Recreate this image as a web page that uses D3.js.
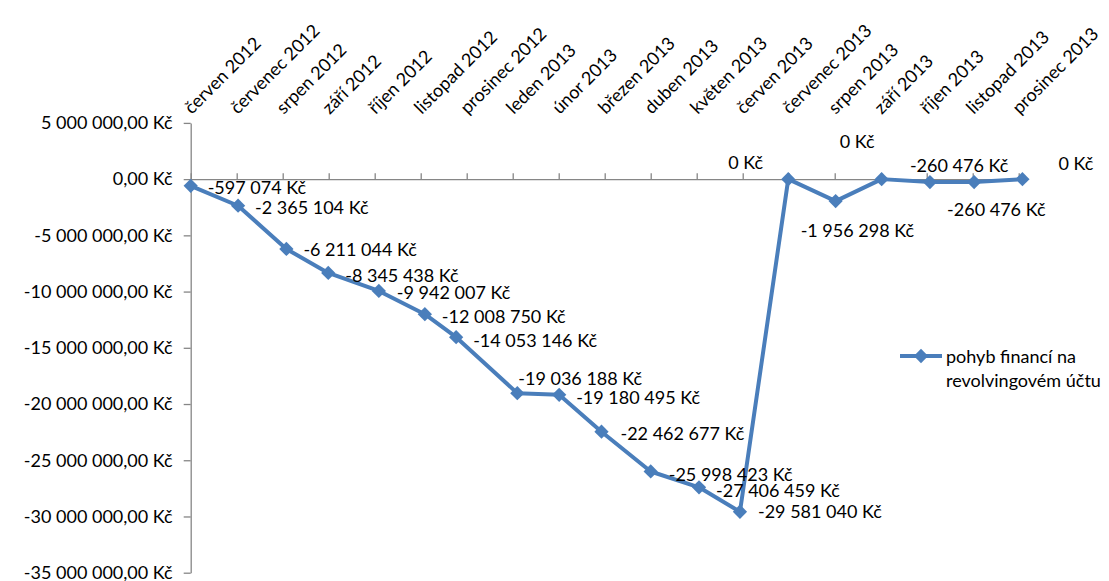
<!DOCTYPE html>
<html>
<head>
<meta charset="utf-8">
<script src="https://cdn.jsdelivr.net/npm/d3@7"></script>
<style>
  body { margin: 0; background: #fff; }
  text { font-family: Lato, "Open Sans", sans-serif; font-size: 18px; fill: #000; }
</style>
</head>
<body>
<svg id="chart" width="1109" height="581"></svg>
<script>
// DATA
const months = ["červen 2012", "červenec 2012", "srpen 2012", "září 2012", "říjen 2012",
    "listopad 2012", "prosinec 2012", "leden 2013", "únor 2013", "březen 2013", "duben 2013",
    "květen 2013", "červen 2013", "červenec 2013", "srpen 2013", "září 2013", "říjen 2013",
    "listopad 2013", "prosinec 2013"];
// where each point sits along the month axis
const monthPos = [0, 1.03, 2.08, 2.99, 4.09, 5.09, 5.77, 7.10, 8.01, 8.93, 10.0,
    11.05, 11.94, 12.99, 14.02, 15.02, 16.07, 17.03, 18.08];
const balance = [-597074, -2365104, -6211044, -8345438, -9942007, -12008750, -14053146,
    -19036188, -19180495, -22462677, -25998423, -27406459, -29581040, 0, -1956298,
    0, -260476, -260476, 0];
const yTicks = [5000000, 0, -5000000, -10000000, -15000000, -20000000, -25000000, -30000000, -35000000];
const seriesName = ["pohyb financí na", "revolvingovém účtu"];

// label placement (dx from point to label start, dy from point to label middle)
const labelOffset = [[17, 2], [17, 2], [17, 1], [17, 3], [18, 2], [17, 2], [17, 3], [1, -15],
    [17, 3], [19, 2], [18, 3], [17, 3], [18, 0], [-60, -17], [-35, 29], [-42, -38],
    [-20, -17], [-27, 27], [36, -16]];

// DIMENSIONS
const plot = {left: 190.7, right: 1022.4, top: 122.9, bottom: 572.7};
const blue = "#4a7ebb", grey = "#868686";

const cz = d3.formatLocale({decimal: ",", thousands: "\u00a0", grouping: [3], currency: ["", " Kč"], minus: "-"});
const fmtAxis = cz.format("$,.2f");
const fmtLabel = cz.format("$,.0f");

const svg = d3.select("#chart");

const x = d3.scaleLinear().domain([0, 18.08]).range([plot.left, plot.right]);
const y = d3.scaleLinear().domain([-35000000, 5000000]).range([plot.bottom, plot.top]);

//Y AXIS
const yAxis = d3.axisLeft(y)
    .tickValues(yTicks)
    .tickFormat(fmtAxis)
    .tickSize(7)
    .tickSizeOuter(0)
    .tickPadding(11);
const gy = svg.append("g")
    .attr("transform", "translate(" + plot.left + ",0)")
    .call(yAxis);
gy.select(".domain").attr("stroke", grey).attr("stroke-width", 1.3);
gy.selectAll(".tick line").attr("stroke", grey).attr("stroke-width", 1.3);
gy.selectAll("text").attr("font-size", 18).attr("font-family", null).attr("dy", "0.32em");

//X AXIS (sits on zero, labels above the plot)
const xAxis = d3.axisTop(x)
    .tickValues(d3.range(months.length))
    .tickFormat("")
    .tickSize(6)
    .tickSizeOuter(0);
const gx = svg.append("g")
    .attr("transform", "translate(0," + y(0) + ")")
    .call(xAxis);
gx.select(".domain").attr("stroke", grey).attr("stroke-width", 1.3);
gx.selectAll(".tick line").attr("stroke", grey).attr("stroke-width", 1.3);

svg.append("g").selectAll("g")
    .data(months)
    .enter().append("g")
    .attr("transform", (d, i) => "translate(" + (x(i) + 1) + ",115) rotate(-45)")
    .append("text")
    .attr("x", 0)
    .attr("y", 0)
    .text(d => d);

//LINE
const pts = balance.map((v, i) => ({pos: monthPos[i], value: v}));
const line = d3.line()
    .x(d => x(d.pos))
    .y(d => y(d.value));
svg.append("path")
    .attr("d", line(pts))
    .attr("fill", "none")
    .attr("stroke", blue)
    .attr("stroke-width", 4)
    .attr("stroke-linejoin", "round");

const diamond = d3.symbol().type(d3.symbolDiamond2).size(130);
svg.append("g").selectAll("path")
    .data(pts)
    .enter().append("path")
    .attr("d", diamond)
    .attr("transform", d => "translate(" + x(d.pos) + "," + y(d.value) + ")")
    .attr("fill", blue);

//DATA LABELS
svg.append("g").selectAll("text")
    .data(pts)
    .enter().append("text")
    .attr("x", (d, i) => x(d.pos) + labelOffset[i][0])
    .attr("y", (d, i) => y(d.value) + labelOffset[i][1] + 6.5)
    .text(d => fmtLabel(d.value));

//LEGEND
const lg = svg.append("g").attr("transform", "translate(900,356)");
lg.append("line")
    .attr("x1", 0).attr("x2", 42)
    .attr("stroke", blue).attr("stroke-width", 4);
lg.append("path")
    .attr("d", diamond)
    .attr("transform", "translate(21,0)")
    .attr("fill", blue);
lg.selectAll(".leg")
    .data(seriesName)
    .enter().append("text")
    .attr("class", "leg")
    .attr("x", 46)
    .attr("y", (d, i) => 7 + i * 24)
    .text(d => d);
</script>
</body>
</html>
